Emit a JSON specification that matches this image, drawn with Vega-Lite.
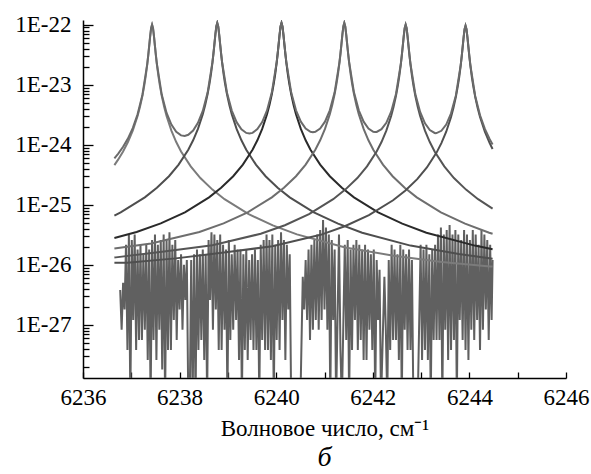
{
"$schema": "https://vega.github.io/schema/vega-lite/v6.json",
"width": 483, "height": 358,
"autosize": {"type": "none"},
"padding": {"left": 83, "top": 20, "right": 25, "bottom": 96},
"background": "white",
"config": {
 "view": {"stroke": null},
 "axis": {"domainColor": "black", "domainWidth": 1.5, "tickColor": "black", "tickWidth": 1.3, "grid": false, "labelFlush": false,
  "labelFont": "Liberation Serif", "labelFontSize": 23, "labelColor": "black",
  "titleFont": "Liberation Serif", "titleFontSize": 23, "titleFontWeight": "normal", "titleColor": "black"}
},
"title": {"text": "б", "orient": "bottom", "font": "Liberation Serif", "fontStyle": "italic", "fontSize": 28, "fontWeight": "normal", "color": "black", "offset": 4},
"datasets": {
"noise": [
{"x":6236.77,"y":3.8e-27},{"x":6236.80,"y":8.3e-28},{"x":6236.83,"y":5e-27},{"x":6236.86,"y":1.8e-27},
{"x":6236.89,"y":2.15e-26},{"x":6236.92,"y":3.8e-28},{"x":6236.95,"y":3.2e-26},{"x":6236.98,"y":5e-29},{"x":6237.01,"y":2.6e-26},{"x":6237.04,"y":1.2e-27},{"x":6237.07,"y":3.2e-26},{"x":6237.10,"y":3.8e-28},{"x":6237.13,"y":1.8e-26},{"x":6237.16,"y":5.6e-28},{"x":6237.19,"y":2.15e-26},
{"x":6237.22,"y":5.6e-28},{"x":6237.25,"y":1.5e-26},{"x":6237.28,"y":8.3e-28},{"x":6237.31,"y":2.15e-26},{"x":6237.34,"y":2.6e-28},{"x":6237.37,"y":1.8e-26},{"x":6237.40,"y":5e-29},{"x":6237.43,"y":2.6e-26},
{"x":6237.46,"y":5.6e-28},{"x":6237.49,"y":3.2e-26},{"x":6237.52,"y":2.6e-28},{"x":6237.55,"y":2.15e-26},{"x":6237.58,"y":8.3e-28},{"x":6237.61,"y":2.6e-26},{"x":6237.64,"y":1.8e-28},{"x":6237.67,"y":3.2e-26},{"x":6237.70,"y":5e-29},{"x":6237.73,"y":2.6e-26},{"x":6237.76,"y":3.8e-28},{"x":6237.79,"y":3.5e-26},{"x":6237.82,"y":3.8e-28},{"x":6237.85,"y":2.15e-26},{"x":6237.88,"y":1.2e-27},{"x":6237.91,"y":2.6e-26},{"x":6237.94,"y":5.6e-28},
{"x":6237.97,"y":1.2e-26},{"x":6238.00,"y":1.8e-27},{"x":6238.03,"y":1.5e-26},{"x":6238.06,"y":8.3e-28},{"x":6238.09,"y":1.0e-26},{"x":6238.12,"y":2.6e-27},{"x":6238.15,"y":1.2e-26},
{"x":6238.18,"y":5e-29},{"x":6238.21,"y":5e-29},{"x":6238.24,"y":1.2e-26},{"x":6238.27,"y":5e-29},{"x":6238.30,"y":1.5e-26},
{"x":6238.33,"y":5e-29},{"x":6238.36,"y":1.8e-26},{"x":6238.39,"y":3.8e-28},{"x":6238.42,"y":1.5e-26},{"x":6238.45,"y":5.6e-28},{"x":6238.48,"y":1.8e-26},{"x":6238.51,"y":2.6e-28},{"x":6238.54,"y":1.5e-26},{"x":6238.57,"y":5e-29},
{"x":6238.60,"y":2.6e-26},{"x":6238.63,"y":2.6e-27},{"x":6238.66,"y":3.5e-26},{"x":6238.69,"y":8.3e-28},{"x":6238.72,"y":3.2e-26},{"x":6238.75,"y":1.8e-27},{"x":6238.78,"y":2.6e-26},{"x":6238.81,"y":3.8e-28},{"x":6238.84,"y":3.2e-26},
{"x":6238.87,"y":3.8e-28},{"x":6238.90,"y":2.15e-26},{"x":6238.93,"y":8.3e-28},{"x":6238.96,"y":1.8e-26},{"x":6238.99,"y":5e-29},{"x":6239.02,"y":2.6e-26},{"x":6239.05,"y":5.6e-28},{"x":6239.08,"y":1.5e-26},{"x":6239.11,"y":8.3e-28},{"x":6239.14,"y":2.15e-26},{"x":6239.17,"y":1.2e-27},{"x":6239.20,"y":1.8e-26},{"x":6239.23,"y":2.6e-28},
{"x":6239.26,"y":1.8e-26},{"x":6239.29,"y":5e-29},{"x":6239.32,"y":1.5e-26},
{"x":6239.35,"y":3.8e-28},{"x":6239.38,"y":1.8e-26},{"x":6239.41,"y":2.6e-28},{"x":6239.44,"y":1.2e-26},{"x":6239.47,"y":5.6e-28},{"x":6239.50,"y":1.5e-26},{"x":6239.53,"y":3.8e-28},{"x":6239.56,"y":1.8e-26},{"x":6239.59,"y":3.8e-28},{"x":6239.62,"y":1.2e-26},{"x":6239.65,"y":5e-29},
{"x":6239.68,"y":2.15e-26},{"x":6239.71,"y":5.6e-28},{"x":6239.74,"y":2.6e-26},{"x":6239.77,"y":3.8e-28},{"x":6239.80,"y":3.2e-26},{"x":6239.83,"y":3.8e-28},{"x":6239.86,"y":2.6e-26},{"x":6239.89,"y":2.6e-28},{"x":6239.92,"y":3.2e-26},{"x":6239.95,"y":5e-29},{"x":6239.98,"y":2.15e-26},{"x":6240.01,"y":5.6e-28},{"x":6240.04,"y":2.6e-26},{"x":6240.07,"y":3.8e-28},{"x":6240.10,"y":3.5e-26},{"x":6240.13,"y":1.2e-27},{"x":6240.16,"y":2.6e-26},{"x":6240.19,"y":2.6e-28},{"x":6240.22,"y":2.15e-26},{"x":6240.25,"y":1.8e-27},{"x":6240.28,"y":1.5e-26},
{"x":6240.31,"y":5e-29},{"x":6240.40,"y":5e-29},{"x":6240.50,"y":5e-29},
{"x":6240.55,"y":6.3e-27},{"x":6240.58,"y":1.8e-27},{"x":6240.61,"y":1.2e-26},{"x":6240.64,"y":1.2e-27},{"x":6240.67,"y":1.8e-26},{"x":6240.70,"y":5.6e-28},{"x":6240.73,"y":2.15e-26},{"x":6240.76,"y":8.3e-28},{"x":6240.79,"y":2.6e-26},{"x":6240.82,"y":1.2e-27},{"x":6240.85,"y":3.2e-26},{"x":6240.88,"y":8.3e-28},{"x":6240.91,"y":3.8e-26},{"x":6240.94,"y":1.2e-27},{"x":6240.97,"y":5.6e-26},{"x":6241.00,"y":1.8e-27},{"x":6241.03,"y":4.2e-26},{"x":6241.06,"y":8.3e-28},{"x":6241.09,"y":3.2e-26},{"x":6241.12,"y":5e-29},{"x":6241.15,"y":2.6e-26},{"x":6241.18,"y":1.2e-27},{"x":6241.21,"y":1.8e-26},{"x":6241.24,"y":5e-29},{"x":6241.30,"y":3.2e-26},{"x":6241.33,"y":3.8e-28},{"x":6241.36,"y":5e-29},
{"x":6241.42,"y":2.15e-26},{"x":6241.45,"y":5.6e-28},{"x":6241.48,"y":2.6e-26},{"x":6241.51,"y":5e-29},{"x":6241.54,"y":1.8e-26},{"x":6241.57,"y":3.8e-28},{"x":6241.60,"y":2.15e-26},{"x":6241.63,"y":1.2e-27},{"x":6241.66,"y":2.6e-26},{"x":6241.69,"y":3.8e-28},{"x":6241.72,"y":2.15e-26},{"x":6241.75,"y":5.6e-28},{"x":6241.78,"y":1.8e-26},{"x":6241.81,"y":2.6e-28},{"x":6241.84,"y":2.15e-26},{"x":6241.87,"y":2.6e-28},{"x":6241.90,"y":1.8e-26},{"x":6241.93,"y":8.3e-28},{"x":6241.96,"y":1.5e-26},{"x":6241.99,"y":3.8e-28},{"x":6242.02,"y":1.8e-26},{"x":6242.05,"y":5e-29},{"x":6242.08,"y":1.2e-26},{"x":6242.11,"y":1.2e-27},{"x":6242.14,"y":8.3e-27},
{"x":6242.17,"y":5e-29},{"x":6242.24,"y":6.3e-27},{"x":6242.27,"y":8.3e-28},{"x":6242.30,"y":5e-29},{"x":6242.33,"y":1.2e-26},
{"x":6242.36,"y":3.8e-28},{"x":6242.39,"y":2.15e-26},{"x":6242.42,"y":5.6e-28},{"x":6242.45,"y":1.8e-26},{"x":6242.48,"y":5.6e-28},{"x":6242.51,"y":1.5e-26},{"x":6242.54,"y":2.6e-28},{"x":6242.57,"y":2.15e-26},{"x":6242.60,"y":5e-29},{"x":6242.63,"y":1.8e-26},{"x":6242.66,"y":8.3e-28},{"x":6242.69,"y":1.5e-26},{"x":6242.72,"y":3.8e-28},{"x":6242.75,"y":1.8e-26},{"x":6242.78,"y":3.8e-28},{"x":6242.81,"y":1.2e-26},{"x":6242.84,"y":5e-29},
{"x":6242.93,"y":5e-29},
{"x":6242.99,"y":2.15e-26},{"x":6243.02,"y":2.6e-28},{"x":6243.05,"y":1.8e-26},{"x":6243.08,"y":3.8e-28},{"x":6243.11,"y":2.15e-26},{"x":6243.14,"y":2.6e-28},{"x":6243.17,"y":1.5e-26},{"x":6243.20,"y":5e-29},{"x":6243.23,"y":1.8e-26},{"x":6243.26,"y":5.6e-28},{"x":6243.29,"y":2.15e-26},{"x":6243.32,"y":5.6e-28},
{"x":6243.35,"y":3.2e-26},{"x":6243.38,"y":5.6e-28},{"x":6243.41,"y":4.2e-26},{"x":6243.44,"y":5e-29},{"x":6243.47,"y":3.2e-26},{"x":6243.50,"y":8.3e-28},{"x":6243.53,"y":3.8e-26},{"x":6243.56,"y":2.6e-28},{"x":6243.59,"y":4.6e-26},{"x":6243.62,"y":3.8e-28},{"x":6243.65,"y":3.2e-26},{"x":6243.68,"y":5.6e-28},{"x":6243.71,"y":3.8e-26},{"x":6243.74,"y":5e-29},{"x":6243.77,"y":3.2e-26},{"x":6243.80,"y":1.2e-27},
{"x":6243.83,"y":2.6e-26},{"x":6243.86,"y":5.6e-28},{"x":6243.89,"y":3.8e-26},{"x":6243.92,"y":3.8e-28},{"x":6243.95,"y":3.2e-26},{"x":6243.98,"y":2.6e-28},{"x":6244.01,"y":2.6e-26},{"x":6244.04,"y":8.3e-28},{"x":6244.07,"y":3.8e-26},{"x":6244.10,"y":5.6e-28},{"x":6244.13,"y":3.2e-26},{"x":6244.16,"y":1.2e-27},{"x":6244.19,"y":2.15e-26},{"x":6244.22,"y":3.8e-28},{"x":6244.25,"y":3.8e-26},{"x":6244.28,"y":8.3e-28},{"x":6244.31,"y":3.2e-26},{"x":6244.34,"y":1.8e-27},{"x":6244.37,"y":2.6e-26},{"x":6244.40,"y":5.6e-28},{"x":6244.43,"y":2.15e-26},{"x":6244.46,"y":1.2e-27},{"x":6244.48,"y":1.2e-26}
],
"curves": [
{"s":"p1","x":6236.65,"y":0.00458e-22},{"s":"p1","x":6236.73,"y":0.0057e-22},{"s":"p1","x":6236.83,"y":0.00772e-22},{"s":"p1","x":6236.93,"y":0.0111e-22},{"s":"p1","x":6237.03,"y":0.0172e-22},{"s":"p1","x":6237.13,"y":0.0302e-22},{"s":"p1","x":6237.18,"y":0.0429e-22},{"s":"p1","x":6237.23,"y":0.0654e-22},{"s":"p1","x":6237.27,"y":0.0986e-22},{"s":"p1","x":6237.30,"y":0.142e-22},{"s":"p1","x":6237.33,"y":0.219e-22},{"s":"p1","x":6237.35,"y":0.304e-22},{"s":"p1","x":6237.37,"y":0.4375e-22},{"s":"p1","x":6237.39,"y":0.636e-22},{"s":"p1","x":6237.41,"y":0.875e-22},{"s":"p1","x":6237.43,"y":1.0e-22},{"s":"p1","x":6237.45,"y":0.875e-22},{"s":"p1","x":6237.47,"y":0.636e-22},{"s":"p1","x":6237.49,"y":0.4375e-22},{"s":"p1","x":6237.51,"y":0.304e-22},{"s":"p1","x":6237.53,"y":0.219e-22},{"s":"p1","x":6237.56,"y":0.142e-22},{"s":"p1","x":6237.59,"y":0.0986e-22},{"s":"p1","x":6237.63,"y":0.0654e-22},{"s":"p1","x":6237.68,"y":0.0429e-22},{"s":"p1","x":6237.73,"y":0.0302e-22},{"s":"p1","x":6237.83,"y":0.0172e-22},{"s":"p1","x":6237.93,"y":0.0111e-22},{"s":"p1","x":6238.03,"y":0.00772e-22},{"s":"p1","x":6238.23,"y":0.00436e-22},{"s":"p1","x":6238.43,"y":0.00279e-22},{"s":"p1","x":6238.68,"y":0.00179e-22},{"s":"p1","x":6238.93,"y":0.00124e-22},{"s":"p1","x":6239.43,"y":0.0007e-22},{"s":"p1","x":6239.93,"y":0.000453e-22},{"s":"p1","x":6240.43,"y":0.000321e-22},{"s":"p1","x":6241.43,"y":0.000195e-22},{"s":"p1","x":6242.43,"y":0.000142e-22},{"s":"p1","x":6243.43,"y":0.000111e-22},{"s":"p1","x":6244.43,"y":0.0000941e-22},{"s":"p1","x":6244.48,"y":0.0000933e-22},
{"s":"p2","x":6236.65,"y":0.000662e-22},{"s":"p2","x":6236.78,"y":0.000749e-22},{"s":"p2","x":6237.28,"y":0.00133e-22},{"s":"p2","x":6237.53,"y":0.00192e-22},{"s":"p2","x":6237.78,"y":0.00299e-22},{"s":"p2","x":6237.98,"y":0.00467e-22},{"s":"p2","x":6238.18,"y":0.00826e-22},{"s":"p2","x":6238.28,"y":0.01188e-22},{"s":"p2","x":6238.38,"y":0.0184e-22},{"s":"p2","x":6238.48,"y":0.0323e-22},{"s":"p2","x":6238.53,"y":0.0459e-22},{"s":"p2","x":6238.58,"y":0.070e-22},{"s":"p2","x":6238.62,"y":0.1055e-22},{"s":"p2","x":6238.65,"y":0.152e-22},{"s":"p2","x":6238.68,"y":0.234e-22},{"s":"p2","x":6238.70,"y":0.325e-22},{"s":"p2","x":6238.72,"y":0.468e-22},{"s":"p2","x":6238.74,"y":0.681e-22},{"s":"p2","x":6238.76,"y":0.936e-22},{"s":"p2","x":6238.78,"y":1.07e-22},{"s":"p2","x":6238.80,"y":0.936e-22},{"s":"p2","x":6238.82,"y":0.681e-22},{"s":"p2","x":6238.84,"y":0.468e-22},{"s":"p2","x":6238.86,"y":0.325e-22},{"s":"p2","x":6238.88,"y":0.234e-22},{"s":"p2","x":6238.91,"y":0.152e-22},{"s":"p2","x":6238.94,"y":0.1055e-22},{"s":"p2","x":6238.98,"y":0.070e-22},{"s":"p2","x":6239.03,"y":0.0459e-22},{"s":"p2","x":6239.08,"y":0.0323e-22},{"s":"p2","x":6239.18,"y":0.0184e-22},{"s":"p2","x":6239.28,"y":0.01188e-22},{"s":"p2","x":6239.38,"y":0.00826e-22},{"s":"p2","x":6239.58,"y":0.00467e-22},{"s":"p2","x":6239.78,"y":0.00299e-22},{"s":"p2","x":6240.03,"y":0.00192e-22},{"s":"p2","x":6240.28,"y":0.00133e-22},{"s":"p2","x":6240.78,"y":0.000749e-22},{"s":"p2","x":6241.28,"y":0.000485e-22},{"s":"p2","x":6241.78,"y":0.000343e-22},{"s":"p2","x":6242.78,"y":0.000209e-22},{"s":"p2","x":6243.78,"y":0.000152e-22},{"s":"p2","x":6244.48,"y":0.000126e-22},
{"s":"p3","x":6236.65,"y":0.000279e-22},{"s":"p3","x":6237.11,"y":0.000352e-22},{"s":"p3","x":6237.61,"y":0.000489e-22},{"s":"p3","x":6238.11,"y":0.000749e-22},{"s":"p3","x":6238.61,"y":0.00133e-22},{"s":"p3","x":6238.86,"y":0.00192e-22},{"s":"p3","x":6239.11,"y":0.00299e-22},{"s":"p3","x":6239.31,"y":0.00467e-22},{"s":"p3","x":6239.51,"y":0.00826e-22},{"s":"p3","x":6239.61,"y":0.01188e-22},{"s":"p3","x":6239.71,"y":0.0184e-22},{"s":"p3","x":6239.81,"y":0.0323e-22},{"s":"p3","x":6239.86,"y":0.0459e-22},{"s":"p3","x":6239.91,"y":0.070e-22},{"s":"p3","x":6239.95,"y":0.1055e-22},{"s":"p3","x":6239.98,"y":0.152e-22},{"s":"p3","x":6240.01,"y":0.234e-22},{"s":"p3","x":6240.03,"y":0.325e-22},{"s":"p3","x":6240.05,"y":0.468e-22},{"s":"p3","x":6240.07,"y":0.681e-22},{"s":"p3","x":6240.09,"y":0.936e-22},{"s":"p3","x":6240.11,"y":1.07e-22},{"s":"p3","x":6240.13,"y":0.936e-22},{"s":"p3","x":6240.15,"y":0.681e-22},{"s":"p3","x":6240.17,"y":0.468e-22},{"s":"p3","x":6240.19,"y":0.325e-22},{"s":"p3","x":6240.21,"y":0.234e-22},{"s":"p3","x":6240.24,"y":0.152e-22},{"s":"p3","x":6240.27,"y":0.1055e-22},{"s":"p3","x":6240.31,"y":0.070e-22},{"s":"p3","x":6240.36,"y":0.0459e-22},{"s":"p3","x":6240.41,"y":0.0323e-22},{"s":"p3","x":6240.51,"y":0.0184e-22},{"s":"p3","x":6240.61,"y":0.01188e-22},{"s":"p3","x":6240.71,"y":0.00826e-22},{"s":"p3","x":6240.91,"y":0.00467e-22},{"s":"p3","x":6241.11,"y":0.00299e-22},{"s":"p3","x":6241.36,"y":0.00192e-22},{"s":"p3","x":6241.61,"y":0.00133e-22},{"s":"p3","x":6242.11,"y":0.000749e-22},{"s":"p3","x":6242.61,"y":0.000485e-22},{"s":"p3","x":6243.11,"y":0.000343e-22},{"s":"p3","x":6244.11,"y":0.000209e-22},{"s":"p3","x":6244.48,"y":0.000182e-22},
{"s":"p4","x":6236.65,"y":0.000187e-22},{"s":"p4","x":6237.41,"y":0.000227e-22},{"s":"p4","x":6238.41,"y":0.000352e-22},{"s":"p4","x":6238.91,"y":0.000489e-22},{"s":"p4","x":6239.41,"y":0.000749e-22},{"s":"p4","x":6239.91,"y":0.00133e-22},{"s":"p4","x":6240.16,"y":0.00192e-22},{"s":"p4","x":6240.41,"y":0.00299e-22},{"s":"p4","x":6240.61,"y":0.00467e-22},{"s":"p4","x":6240.81,"y":0.00826e-22},{"s":"p4","x":6240.91,"y":0.01188e-22},{"s":"p4","x":6241.01,"y":0.0184e-22},{"s":"p4","x":6241.11,"y":0.0323e-22},{"s":"p4","x":6241.16,"y":0.0459e-22},{"s":"p4","x":6241.21,"y":0.070e-22},{"s":"p4","x":6241.25,"y":0.1055e-22},{"s":"p4","x":6241.28,"y":0.152e-22},{"s":"p4","x":6241.31,"y":0.234e-22},{"s":"p4","x":6241.33,"y":0.325e-22},{"s":"p4","x":6241.35,"y":0.468e-22},{"s":"p4","x":6241.37,"y":0.681e-22},{"s":"p4","x":6241.39,"y":0.936e-22},{"s":"p4","x":6241.41,"y":1.07e-22},{"s":"p4","x":6241.43,"y":0.936e-22},{"s":"p4","x":6241.45,"y":0.681e-22},{"s":"p4","x":6241.47,"y":0.468e-22},{"s":"p4","x":6241.49,"y":0.325e-22},{"s":"p4","x":6241.51,"y":0.234e-22},{"s":"p4","x":6241.54,"y":0.152e-22},{"s":"p4","x":6241.57,"y":0.1055e-22},{"s":"p4","x":6241.61,"y":0.070e-22},{"s":"p4","x":6241.66,"y":0.0459e-22},{"s":"p4","x":6241.71,"y":0.0323e-22},{"s":"p4","x":6241.81,"y":0.0184e-22},{"s":"p4","x":6241.91,"y":0.01188e-22},{"s":"p4","x":6242.01,"y":0.00826e-22},{"s":"p4","x":6242.21,"y":0.00467e-22},{"s":"p4","x":6242.41,"y":0.00299e-22},{"s":"p4","x":6242.66,"y":0.00192e-22},{"s":"p4","x":6242.91,"y":0.00133e-22},{"s":"p4","x":6243.41,"y":0.000749e-22},{"s":"p4","x":6243.91,"y":0.000485e-22},{"s":"p4","x":6244.41,"y":0.000343e-22},{"s":"p4","x":6244.48,"y":0.00033e-22},
{"s":"p5","x":6236.65,"y":0.000132e-22},{"s":"p5","x":6236.68,"y":0.000133e-22},{"s":"p5","x":6237.68,"y":0.000167e-22},{"s":"p5","x":6238.68,"y":0.000212e-22},{"s":"p5","x":6239.68,"y":0.000329e-22},{"s":"p5","x":6240.18,"y":0.000457e-22},{"s":"p5","x":6240.68,"y":0.0007e-22},{"s":"p5","x":6241.18,"y":0.00124e-22},{"s":"p5","x":6241.43,"y":0.00179e-22},{"s":"p5","x":6241.68,"y":0.00279e-22},{"s":"p5","x":6241.88,"y":0.00436e-22},{"s":"p5","x":6242.08,"y":0.00772e-22},{"s":"p5","x":6242.18,"y":0.0111e-22},{"s":"p5","x":6242.28,"y":0.0172e-22},{"s":"p5","x":6242.38,"y":0.0302e-22},{"s":"p5","x":6242.43,"y":0.0429e-22},{"s":"p5","x":6242.48,"y":0.0654e-22},{"s":"p5","x":6242.52,"y":0.0986e-22},{"s":"p5","x":6242.55,"y":0.142e-22},{"s":"p5","x":6242.58,"y":0.219e-22},{"s":"p5","x":6242.60,"y":0.304e-22},{"s":"p5","x":6242.62,"y":0.4375e-22},{"s":"p5","x":6242.64,"y":0.636e-22},{"s":"p5","x":6242.66,"y":0.875e-22},{"s":"p5","x":6242.68,"y":1.0e-22},{"s":"p5","x":6242.70,"y":0.875e-22},{"s":"p5","x":6242.72,"y":0.636e-22},{"s":"p5","x":6242.74,"y":0.4375e-22},{"s":"p5","x":6242.76,"y":0.304e-22},{"s":"p5","x":6242.78,"y":0.219e-22},{"s":"p5","x":6242.81,"y":0.142e-22},{"s":"p5","x":6242.84,"y":0.0986e-22},{"s":"p5","x":6242.88,"y":0.0654e-22},{"s":"p5","x":6242.93,"y":0.0429e-22},{"s":"p5","x":6242.98,"y":0.0302e-22},{"s":"p5","x":6243.08,"y":0.0172e-22},{"s":"p5","x":6243.18,"y":0.0111e-22},{"s":"p5","x":6243.28,"y":0.00772e-22},{"s":"p5","x":6243.48,"y":0.00436e-22},{"s":"p5","x":6243.68,"y":0.00279e-22},{"s":"p5","x":6243.93,"y":0.00179e-22},{"s":"p5","x":6244.18,"y":0.00124e-22},{"s":"p5","x":6244.48,"y":0.000863e-22},
{"s":"p6","x":6236.65,"y":0.000108e-22},{"s":"p6","x":6236.92,"y":0.000108e-22},{"s":"p6","x":6237.92,"y":0.000128e-22},{"s":"p6","x":6238.92,"y":0.00016e-22},{"s":"p6","x":6239.92,"y":0.000204e-22},{"s":"p6","x":6240.92,"y":0.000316e-22},{"s":"p6","x":6241.42,"y":0.000439e-22},{"s":"p6","x":6241.92,"y":0.000672e-22},{"s":"p6","x":6242.42,"y":0.00119e-22},{"s":"p6","x":6242.67,"y":0.00172e-22},{"s":"p6","x":6242.92,"y":0.00268e-22},{"s":"p6","x":6243.12,"y":0.00419e-22},{"s":"p6","x":6243.32,"y":0.00741e-22},{"s":"p6","x":6243.42,"y":0.01066e-22},{"s":"p6","x":6243.52,"y":0.0165e-22},{"s":"p6","x":6243.62,"y":0.029e-22},{"s":"p6","x":6243.67,"y":0.0412e-22},{"s":"p6","x":6243.72,"y":0.0628e-22},{"s":"p6","x":6243.76,"y":0.0947e-22},{"s":"p6","x":6243.79,"y":0.136e-22},{"s":"p6","x":6243.82,"y":0.210e-22},{"s":"p6","x":6243.84,"y":0.292e-22},{"s":"p6","x":6243.86,"y":0.42e-22},{"s":"p6","x":6243.88,"y":0.611e-22},{"s":"p6","x":6243.90,"y":0.84e-22},{"s":"p6","x":6243.92,"y":0.96e-22},{"s":"p6","x":6243.94,"y":0.84e-22},{"s":"p6","x":6243.96,"y":0.611e-22},{"s":"p6","x":6243.98,"y":0.42e-22},{"s":"p6","x":6244.00,"y":0.292e-22},{"s":"p6","x":6244.02,"y":0.210e-22},{"s":"p6","x":6244.05,"y":0.136e-22},{"s":"p6","x":6244.08,"y":0.0947e-22},{"s":"p6","x":6244.12,"y":0.0628e-22},{"s":"p6","x":6244.17,"y":0.0412e-22},{"s":"p6","x":6244.22,"y":0.029e-22},{"s":"p6","x":6244.32,"y":0.0165e-22},{"s":"p6","x":6244.42,"y":0.01066e-22},{"s":"p6","x":6244.48,"y":0.0085e-22},
{"s":"sum","x":6236.65,"y":0.00594e-22},{"s":"sum","x":6236.73,"y":0.00713e-22},{"s":"sum","x":6236.83,"y":0.00926e-22},{"s":"sum","x":6236.93,"y":0.0127e-22},{"s":"sum","x":6237.03,"y":0.01895e-22},{"s":"sum","x":6237.13,"y":0.03212e-22},{"s":"sum","x":6237.23,"y":0.06746e-22},{"s":"sum","x":6237.33,"y":0.2213e-22},{"s":"sum","x":6237.35,"y":0.3067e-22},{"s":"sum","x":6237.37,"y":0.4402e-22},{"s":"sum","x":6237.39,"y":0.6387e-22},{"s":"sum","x":6237.41,"y":0.8777e-22},{"s":"sum","x":6237.43,"y":1.0027e-22},{"s":"sum","x":6237.45,"y":0.8777e-22},{"s":"sum","x":6237.47,"y":0.6387e-22},{"s":"sum","x":6237.49,"y":0.4402e-22},{"s":"sum","x":6237.51,"y":0.3067e-22},{"s":"sum","x":6237.53,"y":0.2219e-22},{"s":"sum","x":6237.63,"y":0.0687e-22},{"s":"sum","x":6237.73,"y":0.0340e-22},{"s":"sum","x":6237.83,"y":0.02166e-22},{"s":"sum","x":6237.93,"y":0.01646e-22},{"s":"sum","x":6238.03,"y":0.01433e-22},{"s":"sum","x":6238.105,"y":0.01402e-22},{"s":"sum","x":6238.18,"y":0.01467e-22},{"s":"sum","x":6238.28,"y":0.01731e-22},{"s":"sum","x":6238.38,"y":0.0232e-22},{"s":"sum","x":6238.48,"y":0.0367e-22},{"s":"sum","x":6238.58,"y":0.0741e-22},{"s":"sum","x":6238.68,"y":0.238e-22},{"s":"sum","x":6238.70,"y":0.329e-22},{"s":"sum","x":6238.72,"y":0.472e-22},{"s":"sum","x":6238.74,"y":0.685e-22},{"s":"sum","x":6238.76,"y":0.94e-22},{"s":"sum","x":6238.78,"y":1.074e-22},{"s":"sum","x":6238.80,"y":0.94e-22},{"s":"sum","x":6238.82,"y":0.685e-22},{"s":"sum","x":6238.84,"y":0.472e-22},{"s":"sum","x":6238.86,"y":0.329e-22},{"s":"sum","x":6238.88,"y":0.2382e-22},{"s":"sum","x":6238.98,"y":0.0744e-22},{"s":"sum","x":6239.08,"y":0.0371e-22},{"s":"sum","x":6239.18,"y":0.0238e-22},{"s":"sum","x":6239.28,"y":0.01812e-22},{"s":"sum","x":6239.38,"y":0.01576e-22},{"s":"sum","x":6239.445,"y":0.01539e-22},{"s":"sum","x":6239.51,"y":0.0158e-22},{"s":"sum","x":6239.61,"y":0.01822e-22},{"s":"sum","x":6239.71,"y":0.02393e-22},{"s":"sum","x":6239.81,"y":0.0373e-22},{"s":"sum","x":6239.91,"y":0.0747e-22},{"s":"sum","x":6240.01,"y":0.2385e-22},{"s":"sum","x":6240.03,"y":0.329e-22},{"s":"sum","x":6240.05,"y":0.472e-22},{"s":"sum","x":6240.07,"y":0.685e-22},{"s":"sum","x":6240.09,"y":0.94e-22},{"s":"sum","x":6240.11,"y":1.074e-22},{"s":"sum","x":6240.13,"y":0.94e-22},{"s":"sum","x":6240.15,"y":0.685e-22},{"s":"sum","x":6240.17,"y":0.472e-22},{"s":"sum","x":6240.19,"y":0.329e-22},{"s":"sum","x":6240.21,"y":0.2386e-22},{"s":"sum","x":6240.31,"y":0.0748e-22},{"s":"sum","x":6240.41,"y":0.0375e-22},{"s":"sum","x":6240.51,"y":0.02425e-22},{"s":"sum","x":6240.61,"y":0.01865e-22},{"s":"sum","x":6240.71,"y":0.01642e-22},{"s":"sum","x":6240.76,"y":0.01617e-22},{"s":"sum","x":6240.81,"y":0.01643e-22},{"s":"sum","x":6240.91,"y":0.01867e-22},{"s":"sum","x":6241.01,"y":0.02429e-22},{"s":"sum","x":6241.11,"y":0.03757e-22},{"s":"sum","x":6241.21,"y":0.0749e-22},{"s":"sum","x":6241.31,"y":0.2387e-22},{"s":"sum","x":6241.33,"y":0.329e-22},{"s":"sum","x":6241.35,"y":0.472e-22},{"s":"sum","x":6241.37,"y":0.685e-22},{"s":"sum","x":6241.39,"y":0.94e-22},{"s":"sum","x":6241.41,"y":1.074e-22},{"s":"sum","x":6241.43,"y":0.94e-22},{"s":"sum","x":6241.45,"y":0.685e-22},{"s":"sum","x":6241.47,"y":0.472e-22},{"s":"sum","x":6241.49,"y":0.329e-22},{"s":"sum","x":6241.51,"y":0.2387e-22},{"s":"sum","x":6241.61,"y":0.07484e-22},{"s":"sum","x":6241.71,"y":0.03753e-22},{"s":"sum","x":6241.81,"y":0.02425e-22},{"s":"sum","x":6241.91,"y":0.01867e-22},{"s":"sum","x":6242.01,"y":0.01651e-22},{"s":"sum","x":6242.045,"y":0.01632e-22},{"s":"sum","x":6242.08,"y":0.01639e-22},{"s":"sum","x":6242.18,"y":0.0182e-22},{"s":"sum","x":6242.28,"y":0.02326e-22},{"s":"sum","x":6242.38,"y":0.03558e-22},{"s":"sum","x":6242.48,"y":0.0703e-22},{"s":"sum","x":6242.58,"y":0.2236e-22},{"s":"sum","x":6242.60,"y":0.3079e-22},{"s":"sum","x":6242.62,"y":0.4414e-22},{"s":"sum","x":6242.64,"y":0.6399e-22},{"s":"sum","x":6242.66,"y":0.8789e-22},{"s":"sum","x":6242.68,"y":1.0039e-22},{"s":"sum","x":6242.70,"y":0.8789e-22},{"s":"sum","x":6242.72,"y":0.6399e-22},{"s":"sum","x":6242.74,"y":0.4414e-22},{"s":"sum","x":6242.76,"y":0.3079e-22},{"s":"sum","x":6242.78,"y":0.2235e-22},{"s":"sum","x":6242.88,"y":0.07003e-22},{"s":"sum","x":6242.98,"y":0.03518e-22},{"s":"sum","x":6243.08,"y":0.02277e-22},{"s":"sum","x":6243.18,"y":0.01761e-22},{"s":"sum","x":6243.28,"y":0.01574e-22},{"s":"sum","x":6243.30,"y":0.01564e-22},{"s":"sum","x":6243.32,"y":0.01565e-22},{"s":"sum","x":6243.42,"y":0.01711e-22},{"s":"sum","x":6243.52,"y":0.02172e-22},{"s":"sum","x":6243.62,"y":0.03336e-22},{"s":"sum","x":6243.72,"y":0.06652e-22},{"s":"sum","x":6243.82,"y":0.2132e-22},{"s":"sum","x":6243.84,"y":0.2947e-22},{"s":"sum","x":6243.86,"y":0.4228e-22},{"s":"sum","x":6243.88,"y":0.6138e-22},{"s":"sum","x":6243.90,"y":0.8428e-22},{"s":"sum","x":6243.92,"y":0.9628e-22},{"s":"sum","x":6243.94,"y":0.8428e-22},{"s":"sum","x":6243.96,"y":0.6138e-22},{"s":"sum","x":6243.98,"y":0.4228e-22},{"s":"sum","x":6244.00,"y":0.2947e-22},{"s":"sum","x":6244.02,"y":0.2125e-22},{"s":"sum","x":6244.12,"y":0.06502e-22},{"s":"sum","x":6244.22,"y":0.03103e-22},{"s":"sum","x":6244.32,"y":0.01836e-22},{"s":"sum","x":6244.42,"y":0.01235e-22},{"s":"sum","x":6244.48,"y":0.01009e-22}
]
},
"layer": [
{
 "data": {"name": "noise"},
 "mark": {"type": "line", "color": "#606060", "strokeWidth": 2, "clip": true},
 "encoding": {
  "x": {"field": "x", "type": "quantitative", "scale": {"domain": [6236, 6246], "nice": false, "zero": false},
   "axis": {"values": [6236,6237,6238,6239,6240,6241,6242,6243,6244,6245,6246], "format": "d", "labelExpr": "datum.value % 2 == 0 ? datum.label : ''", "tickSize": -6, "labelPadding": 14, "labelFlush": false, "title": "Волновое число, см⁻¹", "titlePadding": 8}},
  "y": {"field": "y", "type": "quantitative", "scale": {"type": "log", "domain": [1.3e-28, 1.2e-22], "nice": false},
   "axis": {"values": [2e-28,3e-28,4e-28,5e-28,6e-28,7e-28,8e-28,9e-28,1e-27,2e-27,3e-27,4e-27,5e-27,6e-27,7e-27,8e-27,9e-27,1e-26,2e-26,3e-26,4e-26,5e-26,6e-26,7e-26,8e-26,9e-26,1e-25,2e-25,3e-25,4e-25,5e-25,6e-25,7e-25,8e-25,9e-25,1e-24,2e-24,3e-24,4e-24,5e-24,6e-24,7e-24,8e-24,9e-24,1e-23,2e-23,3e-23,4e-23,5e-23,6e-23,7e-23,8e-23,9e-23,1e-22],
    "labelExpr": "abs(log(datum.value)/LN10 - round(log(datum.value)/LN10)) < 0.01 ? '1E' + round(log(datum.value)/LN10) : ''",
    "tickSize": {"condition": {"test": "abs(log(datum.value)/LN10 - round(log(datum.value)/LN10)) < 0.01", "value": -10}, "value": -6},
    "labelPadding": 22, "labelFlush": false, "title": null}}
 }
},
{
 "data": {"name": "curves"},
 "mark": {"type": "line", "strokeWidth": 2, "clip": true},
 "encoding": {
  "x": {"field": "x", "type": "quantitative"},
  "y": {"field": "y", "type": "quantitative"},
  "color": {"field": "s", "type": "nominal", "legend": null,
   "scale": {"domain": ["sum","p1","p2","p3","p4","p5","p6"], "range": ["#6a6a6a","#7b7b7b","#4e4e4e","#2a2a2a","#6e6e6e","#555555","#4f4f4f"]}}
 }
}
]
}
